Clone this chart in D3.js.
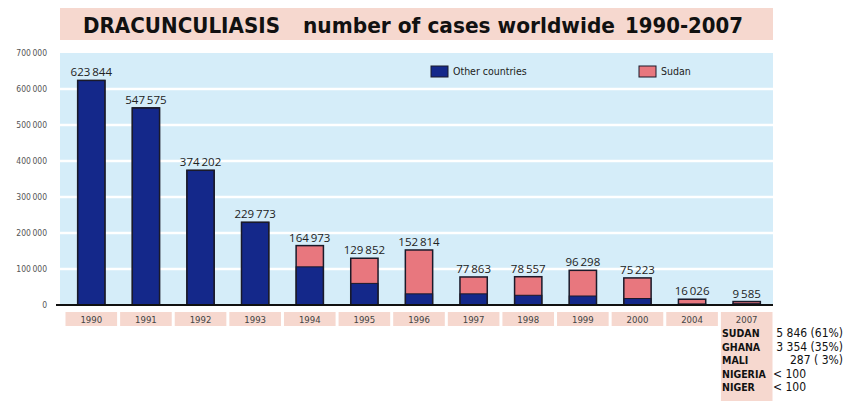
<!DOCTYPE html>
<html>
<head>
<meta charset="utf-8">
<script src="https://cdn.jsdelivr.net/npm/d3@7"></script>
<style>
  body { margin: 0; background: #fff; }
  svg { display: block; }
</style>
</head>
<body>
<svg id="chart" width="846" height="401"></svg>
<script>
var years = ["1990", "1991", "1992", "1993", "1994", "1995", "1996", "1997", "1998", "1999", "2000", "2004", "2007"];
var totals = [623844, 547575, 374202, 229773, 164973, 129852, 152814, 77863, 78557, 96298, 75223, 16026, 9585];
var otherCountries = [623844, 547575, 374202, 229773, 106000, 60000, 31000, 31000, 27000, 25000, 18000, 3000, 3739];
var yTicks = [0, 100000, 200000, 300000, 400000, 500000, 600000, 700000];
var tableCountries = ["SUDAN", "GHANA", "MALI", "NIGERIA", "NIGER"];
var tableCases = ["5 846 (61%)", "3 354 (35%)", "287 ( 3%)", "< 100", "< 100"];

var blue = "#14288a", pink = "#e8777e", sky = "#d5edf9", blush = "#f6d8cf";

var svg = d3.select("#chart");

var fmt = function(v) { return d3.format(",")(v).replace(/,/g, "\u2009"); };

var x = d3.scaleBand()
    .domain(years)
    .range([64, 774])
    .paddingInner(0.5)
    .paddingOuter(0.25);

var y = d3.scaleLinear()
    .domain([0, 700000])
    .range([305, 53]);

// title band
svg.append("rect")
    .attr("x", 60).attr("y", 8)
    .attr("width", 713).attr("height", 32)
    .style("fill", blush);

var title = svg.append("g")
    .style("font-family", "'DejaVu Sans', sans-serif")
    .style("font-weight", "bold")
    .style("font-size", "21px")
    .style("fill", "#111");
title.append("text").attr("x", 83).attr("y", 33).attr("textLength", 197).attr("lengthAdjust", "spacingAndGlyphs").text("DRACUNCULIASIS");
title.append("text").attr("x", 303).attr("y", 33).attr("textLength", 312).attr("lengthAdjust", "spacingAndGlyphs").text("number of cases worldwide");
title.append("text").attr("x", 625).attr("y", 33).attr("textLength", 118).attr("lengthAdjust", "spacingAndGlyphs").text("1990-2007");

// plot background + gridlines
svg.append("rect")
    .attr("x", 60).attr("y", y(700000))
    .attr("width", 713).attr("height", y(0) - y(700000))
    .style("fill", sky);

svg.selectAll(".grid")
    .data(yTicks.slice(1, -1))
  .enter().append("line")
    .attr("class", "grid")
    .attr("x1", 60).attr("x2", 773)
    .attr("y1", function(d) { return y(d); })
    .attr("y2", function(d) { return y(d); })
    .style("stroke", "#fff")
    .style("stroke-width", 2.5);

// y axis labels
var yAxis = svg.append("g")
    .attr("transform", "translate(47,0)")
    .call(d3.axisLeft(y).tickValues(yTicks).tickSize(0).tickPadding(0).tickFormat(fmt));
yAxis.select(".domain").remove();
yAxis.selectAll("text")
    .style("font-family", "'Liberation Sans Narrow', 'DejaVu Sans Condensed', sans-serif")
    .style("font-size", "8.5px")
    .style("fill", "#555");

// bars
var bars = svg.selectAll(".bar")
    .data(years)
  .enter().append("g")
    .attr("class", "bar");

bars.append("rect")
    .attr("x", function(d) { return x(d); })
    .attr("width", x.bandwidth())
    .attr("y", function(d, i) { return y(totals[i]); })
    .attr("height", function(d, i) { return y(0) - y(totals[i]); })
    .style("fill", pink);

bars.append("rect")
    .attr("x", function(d) { return x(d); })
    .attr("width", x.bandwidth())
    .attr("y", function(d, i) { return y(otherCountries[i]); })
    .attr("height", function(d, i) { return y(0) - y(otherCountries[i]); })
    .style("fill", blue)
    .style("stroke", "#1a1a2a")
    .style("stroke-width", 1);

bars.append("rect")
    .attr("x", function(d) { return x(d); })
    .attr("width", x.bandwidth())
    .attr("y", function(d, i) { return y(totals[i]); })
    .attr("height", function(d, i) { return y(0) - y(totals[i]); })
    .style("fill", "none")
    .style("stroke", "#1a1a2a")
    .style("stroke-width", 1.5);

bars.append("text")
    .attr("x", function(d) { return x(d) + x.bandwidth() / 2; })
    .attr("y", function(d, i) { return y(totals[i]) - 4; })
    .attr("text-anchor", "middle")
    .style("font-family", "'Open Sans', sans-serif")
    .style("font-size", "11.5px")
    .style("fill", "#222")
    .text(function(d, i) { return fmt(totals[i]); });

// baseline
svg.append("line")
    .attr("x1", 56).attr("x2", 773)
    .attr("y1", y(0)).attr("y2", y(0))
    .style("stroke", "#111")
    .style("stroke-width", 2);

// year boxes
var step = x.step();
svg.selectAll(".yearbox")
    .data(years)
  .enter().append("rect")
    .attr("class", "yearbox")
    .attr("x", function(d) { return x(d) + x.bandwidth() / 2 - step / 2 + 1.5; })
    .attr("y", 312)
    .attr("width", step - 3)
    .attr("height", function(d, i) { return i === years.length - 1 ? 89 : 14; })
    .style("fill", blush);

svg.selectAll(".year")
    .data(years)
  .enter().append("text")
    .attr("class", "year")
    .attr("x", function(d) { return x(d) + x.bandwidth() / 2; })
    .attr("y", 322.5)
    .attr("text-anchor", "middle")
    .style("font-family", "'Liberation Sans Narrow', 'DejaVu Sans Condensed', sans-serif")
    .style("font-size", "9.5px")
    .style("fill", "#444")
    .text(function(d) { return d; });

// legend
var legendItems = [
  {label: "Other countries", color: blue, x: 431},
  {label: "Sudan", color: pink, x: 639}
];
var legend = svg.selectAll(".legend")
    .data(legendItems)
  .enter().append("g")
    .attr("class", "legend")
    .attr("transform", function(d) { return "translate(" + d.x + ",66)"; });
legend.append("rect")
    .attr("width", 17).attr("height", 11)
    .style("fill", function(d) { return d.color; })
    .style("stroke", "#1a1a2a");
legend.append("text")
    .attr("x", 22).attr("y", 8.5)
    .style("font-family", "'Liberation Sans Narrow', 'DejaVu Sans Condensed', sans-serif")
    .style("font-size", "10.5px")
    .style("fill", "#222")
    .text(function(d) { return d.label; });

// 2007 breakdown table
var table = svg.append("g")
    .style("font-family", "'Liberation Sans Narrow', 'DejaVu Sans Condensed', sans-serif")
    .style("font-size", "12px")
    .style("fill", "#111");
table.selectAll(".country")
    .data(tableCountries)
  .enter().append("text")
    .attr("x", 722)
    .attr("y", function(d, i) { return 337 + i * 13.5; })
    .style("font-weight", "bold")
    .style("font-size", "10.5px")
    .text(function(d) { return d; });
table.selectAll(".cases")
    .data(tableCases)
  .enter().append("text")
    .attr("x", function(d) { return d.charAt(0) === "<" ? 773 : 843; })
    .attr("y", function(d, i) { return 337 + i * 13.5; })
    .attr("text-anchor", function(d) { return d.charAt(0) === "<" ? "start" : "end"; })
    .text(function(d) { return d; });
</script>
</body>
</html>
